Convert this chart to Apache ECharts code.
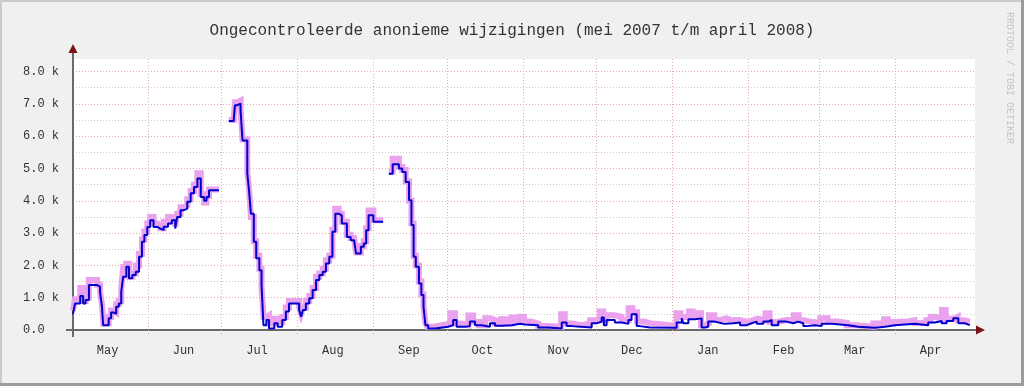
<!DOCTYPE html>
<html>
<head>
<meta charset="utf-8">
<script src="https://cdn.jsdelivr.net/npm/echarts@6/dist/echarts.min.js"></script>
<style>
html,body{margin:0;padding:0;background:#f0f0f0;}
#c{width:1024px;height:386px;}
</style>
</head>
<body>
<div id="c"></div>
<script>
// ---- data (x = days since 1 May 2007, y = thousands of edits) ----
var monthNames = ['May','Jun','Jul','Aug','Sep','Oct','Nov','Dec','Jan','Feb','Mar','Apr'];
var monthStarts = [31,61,92,123,153,184,214,245,276,305,336];
var monthLabelPos = [14.5,45.5,75.5,106.5,137.5,167.5,198.5,228.5,259.5,290.5,319.5,350.5];

var blueDay = [0.4,1.2,3.36,4.54,5.53,6.9,10.25,11.43,12.22,12.71,14.97,15.96,17.14,18.02,19.1,20.09,20.88,22.16,23.24,24.62,26.0,27.37,28.55,29.54,30.72,31.9,33.28,34.85,36.03,37.41,39.18,40.75,42.13,42.92,44.3,45.67,47.05,48.43,49.81,51.18,52.56,53.94,54.92,55.91,57.68,
 60,
 63.98,66.04,66.53,67.52,68.8,69.59,71.55,72.24,73.03,74.21,75.19,76.47,77.36,78.15,79.33,80.41,82.57,83.95,85.82,87.29,88.58,92.71,93.5,94.28,95.46,96.84,98.22,99.6,100.97,102.35,103.63,105.01,106.29,107.47,108.85,110.13,112.19,113.77,115.14,115.93,117.9,119.08,120.07,121.05,123.02,124.49,
 127,
 129.31,130.89,133.45,134.82,136.2,137.58,138.56,139.45,140.33,141.61,142.6,143.48,144.27,145.4,148.2,153.6,155.6,157,160.4,162.4,164.5,167.2,170.6,172.7,175.4,179.5,182.9,184.9,190.3,194.4,199.9,201.9,204,212.1,214.2,216.2,217.1,218.2,221.6,224.4,227.1,228.4,230.5,231.8,235.9,246.8,248.9,249.5,251.6,254.3,257,258.4,259.7,262.4,265.2,266.5,269.9,272.7,275.4,277.4,279.5,282.2,284.2,285.6,288.3,291.7,294.4,296.4,298.5,299.9,303.3,306,310.1,316.9,320.9,327.8,331.8,335.9,344.1,349.5,352.2,355,357,359.7,361.8,364.5,366.5];
var blueVal = [0.49,0.82,1.05,0.82,0.93,1.39,1.34,1.18,0.72,0.15,0.36,0.54,0.50,0.72,0.82,1.18,1.65,1.96,1.6,1.7,1.8,2.27,2.73,2.94,3.19,3.4,3.19,3.14,3.09,3.2,3.3,3.4,3.14,3.5,3.71,3.76,3.97,4.23,4.43,4.69,4.12,4.0,4.12,4.33,4.33,
 null,
 6.47,6.55,6.96,7.01,6.8,5.87,4.84,4.33,3.6,2.73,2.22,1.85,1.39,0.15,0.31,0.05,0.21,0.1,0.31,0.57,0.82,0.62,0.41,0.62,0.82,0.98,1.24,1.55,1.7,1.8,2.06,2.27,3.04,3.6,3.55,3.3,2.88,2.78,2.73,2.37,2.58,2.68,3.09,3.55,3.35,3.35,
 null,
 4.84,5.13,5.0,4.89,4.58,4.02,3.25,2.27,1.96,1.44,1.08,0.72,0.15,0.05,0.1,0.15,0.31,0.1,0.12,0.26,0.15,0.1,0.21,0.13,0.15,0.19,0.17,0.15,0.08,0.05,0.23,0.12,0.08,0.21,0.26,0.39,0.15,0.31,0.23,0.19,0.31,0.49,0.12,0.08,0.07,0.23,0.36,0.21,0.33,0.36,0.08,0.1,0.26,0.21,0.19,0.21,0.23,0.15,0.21,0.26,0.19,0.26,0.31,0.15,0.26,0.21,0.26,0.21,0.12,0.15,0.12,0.19,0.15,0.1,0.07,0.1,0.15,0.19,0.15,0.23,0.28,0.21,0.28,0.36,0.21,0.15,0.15];

var pinkDay = [0.4,1.2,3.36,4.54,5.53,6.9,10.25,11.43,12.22,12.71,14.97,15.96,17.14,18.02,19.1,20.09,20.88,22.16,23.24,24.62,26.0,27.37,28.55,29.54,30.72,31.9,33.28,34.85,36.03,37.41,39.18,40.75,42.13,42.92,44.3,45.67,47.05,48.43,49.81,51.18,52.56,53.94,54.92,55.91,57.68,
 60,
 63.98,66.04,66.53,67.52,68.8,69.59,71.55,72.24,73.03,74.21,75.19,76.47,77.36,78.15,79.33,80.41,82.57,83.95,85.82,87.29,88.58,92.71,93.5,94.28,95.46,96.84,98.22,99.6,100.97,102.35,103.63,105.01,106.29,107.47,108.85,110.13,112.19,113.77,115.14,115.93,117.9,119.08,120.07,121.05,123.02,124.49,
 127,
 129.31,130.89,133.45,134.82,136.2,137.58,138.56,139.45,140.33,141.61,142.6,143.48,144.27,
 145.06,148.0,150.96,154.4,156.37,158.83,161.79,163.75,166.21,168.67,170.64,172.61,175.07,177.04,179.5,181.47,182.94,184.42,187.37,190.32,194.26,199.67,201.15,204.1,208.03,211.48,213.94,215.41,216.89,217.87,221.32,224.27,227.22,228.7,230.67,233.62,236.57,244.44,246.71,248.38,251.82,253.3,254.77,256.74,258.22,259.99,262.15,264.61,267.07,269.53,272.49,275.93,277.9,279.87,283.11,284.79,287.74,291.67,294.63,296.59,298.56,301.51,305.45,308.4,312.34,316.27,320.21,327.1,331.53,333.0,335.95,340.87,343.83,348.75,350.52,352.19,355.14,356.62,360.06,361.54,364.0,366.5];
var pinkVal = [0.6,0.95,1.3,0.9,1.0,1.55,1.4,1.2,0.8,0.2,0.4,0.6,0.55,0.8,0.9,1.3,1.95,2.05,1.65,1.75,2.0,2.35,2.8,3.05,3.3,3.5,3.3,3.25,3.15,3.35,3.5,3.45,3.2,3.6,3.8,3.85,4.05,4.3,4.5,4.85,4.2,3.95,4.15,4.35,4.35,
 null,
 6.5,6.6,7.05,7.1,6.85,5.9,4.9,4.4,3.5,2.75,2.3,1.9,1.35,0.4,0.45,0.2,0.35,0.25,0.4,0.7,0.9,0.7,0.5,0.7,0.9,1.05,1.3,1.65,1.75,1.9,2.15,2.3,3.1,3.75,3.6,3.35,2.95,2.85,2.8,2.4,2.6,2.75,3.15,3.7,3.4,3.4,
 null,
 4.9,5.3,5.05,4.95,4.6,4.0,3.3,2.3,2.0,1.5,1.1,0.75,0.2,
 0.1,0.15,0.2,0.52,0.2,0.15,0.45,0.25,0.15,0.36,0.31,0.2,0.33,0.2,0.39,0.25,0.41,0.26,0.2,0.12,0.1,0.49,0.2,0.15,0.2,0.3,0.35,0.57,0.3,0.46,0.41,0.3,0.67,0.55,0.26,0.2,0.15,0.12,0.52,0.4,0.57,0.45,0.52,0.15,0.2,0.46,0.31,0.36,0.3,0.31,0.25,0.3,0.35,0.3,0.52,0.25,0.31,0.3,0.46,0.3,0.26,0.22,0.36,0.26,0.22,0.15,0.1,0.2,0.33,0.25,0.26,0.3,0.22,0.3,0.41,0.35,0.62,0.35,0.41,0.3,0.26,0.26];

var titleText = 'Ongecontroleerde anonieme wijzigingen (mei 2007 t/m april 2008)';
var sideText = 'RRDTOOL / TOBI OETIKER';

function pairs(days, vals) {
  return days.map(function (d, i) { return [d, vals[i] === null ? '-' : vals[i]]; });
}

var MONO = '"Liberation Mono", "DejaVu Sans Mono", monospace';
var MAJOR = '#e7aaaa', MINOR = '#cdcdcd';
var yMax = 8.39;
var splitColors = [];
for (var i = 0; i < 17; i++) splitColors.push(i % 2 === 0 ? MAJOR : MINOR);
splitColors.push('rgba(0,0,0,0)');

var chart = echarts.init(document.getElementById('c'), null, {renderer: 'canvas'});
chart.setOption({
  animation: false,
  backgroundColor: '#f0f0f0',
  title: {
    text: titleText, left: 'center', top: 18,
    textStyle: {fontFamily: MONO, fontSize: 16, fontWeight: 'normal', color: '#333'}
  },
  grid: {left: 73, right: 49, top: 59, bottom: 56, show: true, backgroundColor: '#ffffff', borderWidth: 0},
  xAxis: {
    type: 'value', min: 0.4, max: 368.6,
    axisLine: {show: true, lineStyle: {color: '#6a6a6a', width: 2}},
    axisTick: {show: true, customValues: monthStarts, length: 6, inside: false,
      lineStyle: {color: MAJOR, type: [1, 2]}},
    splitLine: {show: true, lineStyle: {color: MAJOR, type: [1, 2], width: 1}},
    axisLabel: {
      customValues: monthLabelPos, margin: 15,
      fontFamily: MONO, fontSize: 12, color: '#333',
      formatter: function (v) {
        var k = monthLabelPos.indexOf(v);
        return k >= 0 ? monthNames[k] : '';
      }
    }
  },
  yAxis: {
    type: 'value', min: 0, max: yMax, interval: 0.5,
    axisLine: {show: true, lineStyle: {color: '#6a6a6a', width: 2}},
    axisTick: {show: false},
    splitLine: {show: true, lineStyle: {color: splitColors, type: [1, 2], width: 1}},
    axisLabel: {
      align: 'left', margin: 50, fontFamily: MONO, fontSize: 12, color: '#333',
      showMaxLabel: false,
      formatter: function (v) {
        if (Math.abs(v - Math.round(v)) > 1e-6) return '';
        var r = Math.round(v);
        return r === 0 ? '0.0' : r.toFixed(1) + ' k';
      }
    }
  },
  series: [
    {
      type: 'line', step: 'end', showSymbol: false, connectNulls: false, z: 2,
      data: pairs(pinkDay, pinkVal),
      lineStyle: {color: '#eaa2ef', width: 6, join: 'miter', cap: 'butt'}
    },
    {
      type: 'line', step: 'end', showSymbol: false, connectNulls: false, z: 3,
      data: pairs(blueDay, blueVal),
      lineStyle: {color: '#0000cc', width: 2}
    }
  ],
  graphic: [
    {type: 'rect', shape: {x: 0, y: 0, width: 1024, height: 2}, style: {fill: '#cbcbcb'}, silent: true},
    {type: 'rect', shape: {x: 0, y: 0, width: 2, height: 386}, style: {fill: '#cbcbcb'}, silent: true},
    {type: 'rect', shape: {x: 0, y: 383, width: 1024, height: 3}, style: {fill: '#9c9c9c'}, silent: true},
    {type: 'rect', shape: {x: 1021, y: 0, width: 3, height: 386}, style: {fill: '#9c9c9c'}, silent: true},
    {type: 'line', shape: {x1: 66, y1: 330, x2: 74, y2: 330}, style: {stroke: '#6a6a6a', lineWidth: 2}, silent: true},
    {type: 'line', shape: {x1: 73, y1: 337, x2: 73, y2: 329}, style: {stroke: '#6a6a6a', lineWidth: 2}, silent: true},
    {type: 'line', shape: {x1: 73, y1: 60, x2: 73, y2: 52}, style: {stroke: '#6a6a6a', lineWidth: 2}, silent: true},
    {type: 'line', shape: {x1: 974, y1: 330, x2: 977, y2: 330}, style: {stroke: '#6a6a6a', lineWidth: 2}, silent: true},
    {type: 'polygon', shape: {points: [[976, 325.5], [985, 330], [976, 334.5]]}, style: {fill: '#7a1414'}, silent: true, z: 100},
    {type: 'polygon', shape: {points: [[68.5, 53], [73, 44], [77.5, 53]]}, style: {fill: '#7a1414'}, silent: true, z: 100},
    {type: 'text', x: 1010, y: 12, rotation: -Math.PI / 2, silent: true,
      style: {text: sideText, fill: '#c6c6c6', font: '10px ' + MONO, textAlign: 'left', textVerticalAlign: 'middle'}}
  ]
});
</script>
</body>
</html>
